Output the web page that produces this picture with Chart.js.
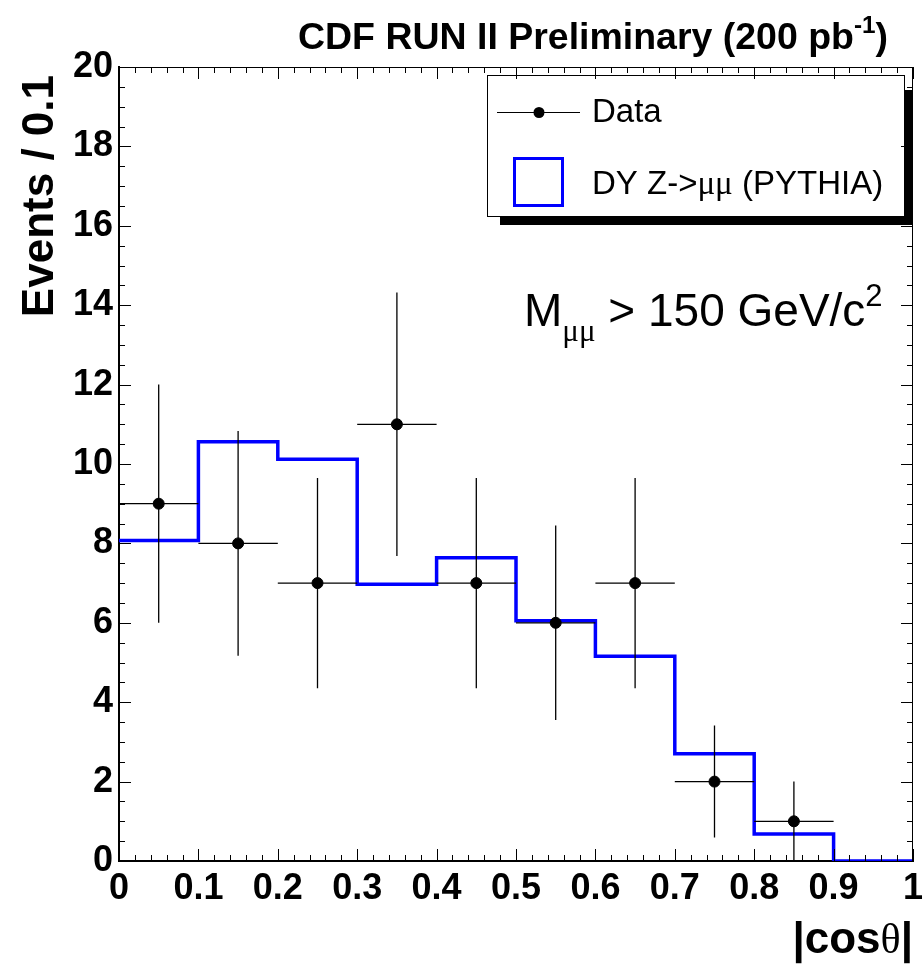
<!DOCTYPE html>
<html>
<head>
<meta charset="utf-8">
<script src="https://cdn.jsdelivr.net/npm/chart.js@4.4.1/dist/chart.umd.min.js"></script>
<style>
  html, body { margin: 0; padding: 0; background: #fff; }
  canvas { display: block; }
</style>
</head>
<body>
<canvas id="cosChart" width="923" height="965"></canvas>
<script>
// Bin edges of |cos theta| and the MC prediction per bin
const binEdges = [0, 0.1, 0.2, 0.3, 0.4, 0.5, 0.6, 0.7, 0.8, 0.9, 1.0];
const mcValues = [8.07, 10.56, 10.12, 6.97, 7.64, 6.05, 5.16, 2.70, 0.68, 0];

// Data points (bin centres, counts, errors)
const dataCenters = [0.05, 0.15, 0.25, 0.35, 0.45, 0.55, 0.65, 0.75, 0.85];
const dataValues = [9, 8, 7, 11, 7, 6, 7, 2, 1];
const dataErrors = [3.0, 2.83, 2.65, 3.32, 2.65, 2.45, 2.65, 1.41, 1.0];
const halfBin = 0.05;

// Axis ticks
const xTicks = [0, 0.1, 0.2, 0.3, 0.4, 0.5, 0.6, 0.7, 0.8, 0.9, 1];
const xTickLabels = ['0', '0.1', '0.2', '0.3', '0.4', '0.5', '0.6', '0.7', '0.8', '0.9', '1'];
const yTicks = [0, 2, 4, 6, 8, 10, 12, 14, 16, 18, 20];

const SANS = '"Liberation Sans", Arial, Helvetica, sans-serif';
const SERIF = '"Liberation Serif", "Times New Roman", serif';

// histogram as step line: one point per left edge plus the right end
const histPoints = binEdges.map((e, i) => ({ x: e, y: mcValues[Math.min(i, mcValues.length - 1)] }));
const dataPoints = dataCenters.map((c, i) => ({ x: c, y: dataValues[i] }));

// draw a run of text pieces with different fonts / offsets
function drawRich(ctx, x, y, parts, align) {
  let total = 0;
  parts.forEach(p => { ctx.font = p.f; total += ctx.measureText(p.t).width; });
  let cx = align === 'right' ? x - total : x;
  parts.forEach(p => {
    ctx.font = p.f;
    ctx.fillText(p.t, cx, y + (p.dy || 0));
    cx += ctx.measureText(p.t).width;
  });
  return total;
}

const decorPlugin = {
  id: 'decor',
  afterDatasetsDraw(chart) {
    const ctx = chart.ctx;
    const xs = chart.scales.x, ys = chart.scales.y;
    const area = chart.chartArea;

    // error bars
    ctx.save();
    ctx.strokeStyle = '#000';
    ctx.lineWidth = 1.3;
    dataCenters.forEach((c, i) => {
      const px = xs.getPixelForValue(c);
      const py = ys.getPixelForValue(dataValues[i]);
      ctx.beginPath();
      ctx.moveTo(xs.getPixelForValue(c - halfBin), py);
      ctx.lineTo(xs.getPixelForValue(c + halfBin), py);
      ctx.moveTo(px, ys.getPixelForValue(Math.max(0, dataValues[i] - dataErrors[i])));
      ctx.lineTo(px, ys.getPixelForValue(dataValues[i] + dataErrors[i]));
      ctx.stroke();
    });
    ctx.restore();

    // legend with shadow
    ctx.save();
    ctx.fillStyle = '#000';
    ctx.fillRect(500, 90, 412, 135);
    ctx.fillStyle = '#fff';
    ctx.fillRect(487, 75, 417, 141);
    ctx.strokeStyle = '#000';
    ctx.lineWidth = 1;
    ctx.strokeRect(487.5, 75.5, 417, 141);
    // Data entry
    ctx.beginPath();
    ctx.moveTo(497, 112.5);
    ctx.lineTo(580, 112.5);
    ctx.stroke();
    ctx.beginPath();
    ctx.arc(539, 112.5, 5.5, 0, Math.PI * 2);
    ctx.fillStyle = '#000';
    ctx.fill();
    ctx.textBaseline = 'alphabetic';
    drawRich(ctx, 592, 122, [{ t: 'Data', f: '33px ' + SANS }]);
    // MC entry
    ctx.strokeStyle = '#0000ff';
    ctx.lineWidth = 3;
    ctx.strokeRect(514.5, 158.5, 48, 47);
    drawRich(ctx, 592, 194, [
      { t: 'DY Z->', f: '33px ' + SANS },
      { t: '\u03bc\u03bc', f: '33px ' + SERIF },
      { t: ' (PYTHIA)', f: '33px ' + SANS }
    ]);
    ctx.restore();

    // frame (top/right thin lines) and inward ticks on all sides
    ctx.save();
    ctx.strokeStyle = '#000';
    ctx.lineWidth = 1;
    ctx.beginPath();
    ctx.moveTo(area.left, area.top + 0.5);
    ctx.lineTo(area.right, area.top + 0.5);
    ctx.moveTo(area.right - 0.5, area.top);
    ctx.lineTo(area.right - 0.5, area.bottom);
    for (let i = 0; i <= 50; i++) {
      const v = i * 0.02;
      const len = i % 5 === 0 ? 12 : 6;
      const px = Math.round(xs.getPixelForValue(v)) + 0.5;
      ctx.moveTo(px, area.bottom);
      ctx.lineTo(px, area.bottom - len);
      ctx.moveTo(px, area.top);
      ctx.lineTo(px, area.top + len);
    }
    for (let i = 0; i <= 40; i++) {
      const v = i * 0.5;
      const len = i % 4 === 0 ? 12 : 6;
      const py = Math.round(ys.getPixelForValue(v)) + 0.5;
      ctx.moveTo(area.left, py);
      ctx.lineTo(area.left + len, py);
      ctx.moveTo(area.right, py);
      ctx.lineTo(area.right - len, py);
    }
    ctx.stroke();
    ctx.restore();

    // texts
    ctx.save();
    ctx.fillStyle = '#000';
    ctx.textBaseline = 'alphabetic';
    // title, fitted to its width in the reference
    const titleParts = [
      { t: 'CDF RUN II Preliminary (200 pb', f: 'bold 37px ' + SANS },
      { t: '-1', f: 'bold 24px ' + SANS, dy: -16 },
      { t: ')', f: 'bold 37px ' + SANS }
    ];
    let w = 0;
    titleParts.forEach(p => { ctx.font = p.f; w += ctx.measureText(p.t).width; });
    ctx.save();
    ctx.translate(298, 49);
    ctx.scale(590 / w, 1);
    drawRich(ctx, 0, 0, titleParts);
    ctx.restore();

    // y axis title
    ctx.save();
    ctx.translate(53, 75);
    ctx.rotate(-Math.PI / 2);
    ctx.textAlign = 'right';
    ctx.font = 'bold 44px ' + SANS;
    ctx.fillText('Events / 0.1', 0, 0);
    ctx.restore();

    // x axis title
    drawRich(ctx, 913, 953, [
      { t: '|cos', f: 'bold 44px ' + SANS },
      { t: '\u03b8', f: '42px ' + SERIF },
      { t: '|', f: 'bold 44px ' + SANS }
    ], 'right');

    // mass cut label
    drawRich(ctx, 524, 326, [
      { t: 'M', f: '46px ' + SANS },
      { t: '\u03bc\u03bc', f: '31px ' + SERIF, dy: 15 },
      { t: ' > 150 GeV/c', f: '46px ' + SANS },
      { t: '2', f: '31px ' + SANS, dy: -20 }
    ]);
    ctx.restore();
  }
};

const ctx = document.getElementById('cosChart').getContext('2d');
new Chart(ctx, {
  type: 'line',
  data: {
    datasets: [
      {
        label: 'DY Z->\u03bc\u03bc (PYTHIA)',
        data: histPoints,
        stepped: true,
        borderColor: '#0000ff',
        borderWidth: 3.5,
        pointRadius: 0,
        fill: false,
        order: 2
      },
      {
        type: 'scatter',
        label: 'Data',
        data: dataPoints,
        pointRadius: 5.5,
        pointBackgroundColor: '#000',
        pointBorderColor: '#000',
        showLine: false,
        order: 1
      }
    ]
  },
  options: {
    responsive: false,
    animation: false,
    devicePixelRatio: 1,
    layout: { padding: { top: 67, right: 10, left: 0, bottom: 0 } },
    plugins: {
      legend: { display: false },
      title: { display: false },
      tooltip: { enabled: false }
    },
    scales: {
      x: {
        type: 'linear',
        min: 0,
        max: 1,
        afterFit(s) {
          s.height = 104;
          // let the end labels overhang the plot edges like the original
          s.paddingLeft = 0;
          s.paddingRight = 0;
        },
        afterBuildTicks(s) { s.ticks = xTicks.map(v => ({ value: v })); },
        ticks: {
          autoSkip: false,
          maxRotation: 0,
          padding: 6,
          color: '#000',
          font: { family: SANS, size: 36, weight: 'bold' },
          callback: (v, i) => xTickLabels[i]
        },
        grid: { display: false, drawTicks: false },
        border: { display: true, color: '#000', width: 2 }
      },
      y: {
        min: 0,
        max: 20,
        afterFit(s) { s.width = 119; },
        afterBuildTicks(s) { s.ticks = yTicks.map(v => ({ value: v })); },
        ticks: {
          autoSkip: false,
          padding: 6,
          color: '#000',
          font: { family: SANS, size: 36, weight: 'bold' }
        },
        grid: { display: false, drawTicks: false },
        border: { display: true, color: '#000', width: 2 }
      }
    }
  },
  plugins: [decorPlugin]
});
</script>
</body>
</html>
